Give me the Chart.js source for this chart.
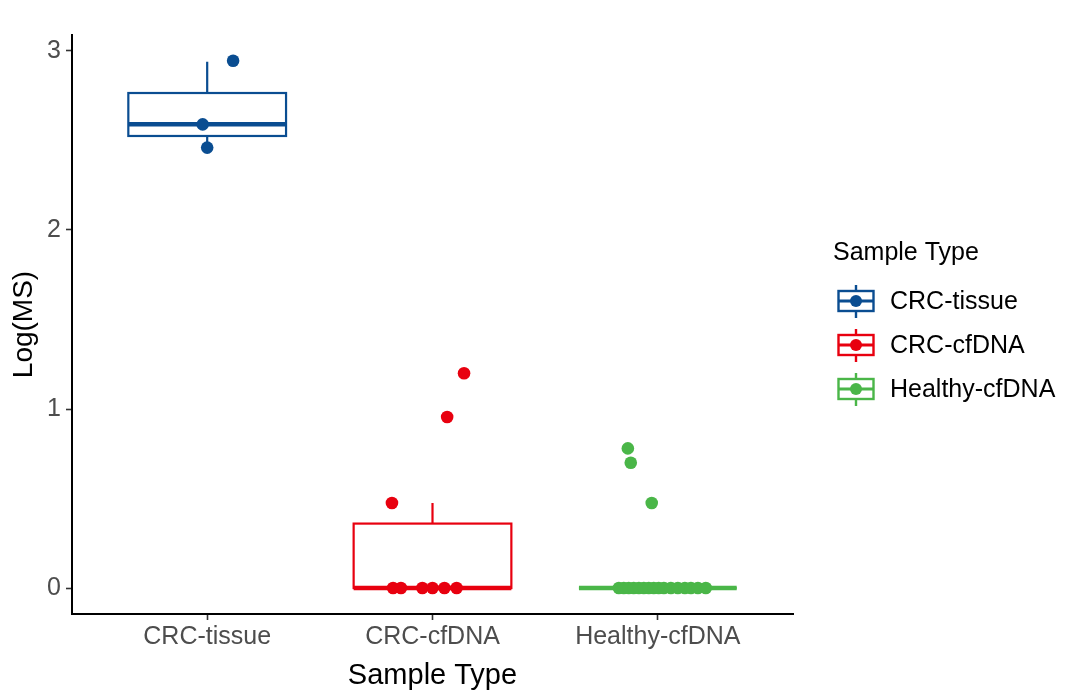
<!DOCTYPE html>
<html>
<head>
<meta charset="utf-8">
<script src="https://cdn.jsdelivr.net/npm/chart.js@4.4.1/dist/chart.umd.min.js"></script>
<style>
    html, body { margin: 0; padding: 0; background: #fff; }
    #wrap { width: 1080px; height: 696px; }
</style>
</head>
<body>
<div id="wrap"><canvas id="boxChart" width="1080" height="696"></canvas></div>
<script>
// categories and box statistics
const categories = ['CRC-tissue', 'CRC-cfDNA', 'Healthy-cfDNA'];
const colors = ['#0A4D91', '#E8000F', '#4AB648'];
const whiskerLow = [2.46, 0, 0];
const q1 = [2.525, 0, 0];
const medians = [2.59, 0, 0];
const q3 = [2.765, 0.36, 0];
const whiskerHigh = [2.94, 0.475, 0];
const yTicks = [0, 1, 2, 3];

// jittered points: value and horizontal jitter around the category
const tissueValues = [2.945, 2.59, 2.46];
const tissueJitter = [0.115, -0.02, 0.0];
const cfdnaValues = [0.475, 0.955, 1.2, 0, 0, 0, 0, 0, 0];
const cfdnaJitter = [-0.18, 0.065, 0.14, -0.175, -0.14, -0.045, 0.0, 0.053, 0.107];
const healthyValues = [0.78, 0.70, 0.475, 0, 0, 0, 0, 0, 0, 0, 0, 0, 0, 0, 0, 0, 0, 0, 0];
const healthyJitter = [-0.133, -0.12, -0.027, -0.173, -0.151, -0.129, -0.107, -0.084, -0.062, -0.04,
    -0.018, 0.004, 0.027, 0.058, 0.089, 0.12, 0.147, 0.178, 0.213];

function toPoints(catIndex, values, jitter) {
    return values.map(function (v, i) {
        return { x: catIndex + 1 + jitter[i], y: v };
    });
}

const BOX_HALF = 0.35;
const FONT = '"Liberation Sans", Arial, sans-serif';

const boxPlugin = {
    id: 'boxes',
    beforeDatasetsDraw(chart) {
        const ctx = chart.ctx;
        const xs = chart.scales.x;
        const ys = chart.scales.y;
        ctx.save();
        categories.forEach(function (c, i) {
            const xc = xs.getPixelForValue(i + 1);
            const xl = xs.getPixelForValue(i + 1 - BOX_HALF);
            const xr = xs.getPixelForValue(i + 1 + BOX_HALF);
            const yq1 = ys.getPixelForValue(q1[i]);
            const yq3 = ys.getPixelForValue(q3[i]);
            const ymed = ys.getPixelForValue(medians[i]);
            const ylo = ys.getPixelForValue(whiskerLow[i]);
            const yhi = ys.getPixelForValue(whiskerHigh[i]);
            ctx.strokeStyle = colors[i];
            ctx.lineWidth = 2.2;
            // whiskers
            ctx.beginPath();
            ctx.moveTo(xc, yq3); ctx.lineTo(xc, yhi);
            ctx.moveTo(xc, yq1); ctx.lineTo(xc, ylo);
            ctx.stroke();
            // box
            ctx.fillStyle = '#fff';
            ctx.fillRect(xl, yq3, xr - xl, yq1 - yq3);
            ctx.strokeRect(xl, yq3, xr - xl, yq1 - yq3);
            // median
            ctx.lineWidth = 4.5;
            ctx.beginPath();
            ctx.moveTo(xl, ymed); ctx.lineTo(xr, ymed);
            ctx.stroke();
        });
        ctx.restore();
    },
    afterDraw(chart) {
        // legend
        const ctx = chart.ctx;
        ctx.save();
        ctx.fillStyle = '#000';
        ctx.textBaseline = 'middle';
        ctx.textAlign = 'left';
        ctx.font = '25px ' + FONT;
        ctx.fillText('Sample Type', 833, 253);
        ctx.font = '25px ' + FONT;
        categories.forEach(function (c, i) {
            const cy = 301 + i * 44;
            const cx = 856;
            ctx.strokeStyle = colors[i];
            ctx.lineWidth = 2.4;
            ctx.beginPath();
            ctx.moveTo(cx, cy - 16); ctx.lineTo(cx, cy - 10);
            ctx.moveTo(cx, cy + 10); ctx.lineTo(cx, cy + 17);
            ctx.stroke();
            ctx.strokeRect(838.5, cy - 10, 35, 20);
            ctx.lineWidth = 2.8;
            ctx.beginPath();
            ctx.moveTo(838.5, cy); ctx.lineTo(873.5, cy);
            ctx.stroke();
            ctx.fillStyle = colors[i];
            ctx.beginPath();
            ctx.arc(cx, cy, 6, 0, Math.PI * 2);
            ctx.fill();
            ctx.fillStyle = '#000';
            ctx.fillText(c, 890, cy + 1);
        });
        ctx.restore();
    }
};

const pointSets = [
    toPoints(0, tissueValues, tissueJitter),
    toPoints(1, cfdnaValues, cfdnaJitter),
    toPoints(2, healthyValues, healthyJitter)
];

const config = {
    type: 'scatter',
    data: {
        datasets: categories.map(function (c, i) {
            return {
                label: c,
                data: pointSets[i],
                backgroundColor: colors[i],
                borderWidth: 0,
                pointRadius: 6.3,
                pointHoverRadius: 6.3
            };
        })
    },
    options: {
        responsive: false,
        animation: false,
        layout: { padding: { top: 35, right: 287, bottom: 0, left: 0 } },
        plugins: {
            legend: { display: false },
            tooltip: { enabled: false }
        },
        scales: {
            x: {
                type: 'linear',
                min: 0.4,
                max: 3.6,
                afterBuildTicks: function (axis) {
                    axis.ticks = [1, 2, 3].map(function (v) { return { value: v }; });
                },
                afterFit: function (scale) { scale.height = 82; },
                ticks: {
                    autoSkip: false,
                    maxRotation: 0,
                    padding: 2,
                    color: '#4D4D4D',
                    font: { family: FONT, size: 25 },
                    callback: function (value) { return categories[value - 1]; }
                },
                grid: {
                    drawOnChartArea: false,
                    tickLength: 6,
                    tickWidth: 1.6,
                    tickColor: '#333'
                },
                border: { display: true, color: '#000', width: 2 },
                title: {
                    display: true,
                    text: 'Sample Type',
                    color: '#000',
                    padding: { top: 0, bottom: 3 },
                    font: { family: FONT, size: 29 }
                }
            },
            y: {
                min: -0.145,
                max: 3.089,
                afterBuildTicks: function (axis) {
                    axis.ticks = yTicks.map(function (v) { return { value: v }; });
                },
                afterFit: function (scale) { scale.width = 72; },
                ticks: {
                    padding: 5,
                    color: '#4D4D4D',
                    font: { family: FONT, size: 25 }
                },
                grid: {
                    drawOnChartArea: false,
                    tickLength: 6,
                    tickWidth: 1.6,
                    tickColor: '#333'
                },
                border: { display: true, color: '#000', width: 2 },
                title: {
                    display: true,
                    text: 'Log(MS)',
                    color: '#000',
                    padding: { top: 7, bottom: 0 },
                    font: { family: FONT, size: 28 }
                }
            }
        }
    },
    plugins: [boxPlugin]
};

new Chart(document.getElementById('boxChart'), config);
</script>
</body>
</html>
